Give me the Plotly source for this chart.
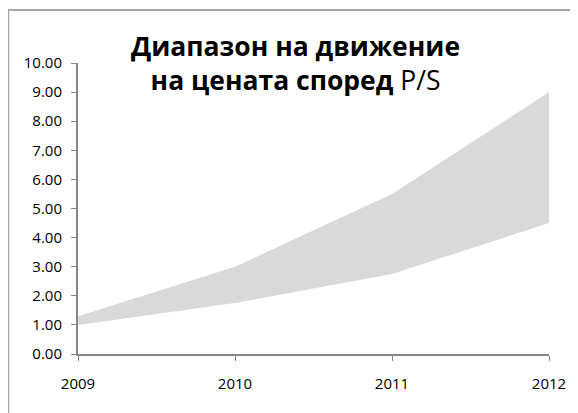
import plotly.graph_objects as go

years = [2009, 2010, 2011, 2012]
year_labels = ["2009", "2010", "2011", "2012"]
lower = [1.0, 1.75, 2.75, 4.5]
upper = [1.3, 3.0, 5.5, 9.0]
y_ticks = [0, 1, 2, 3, 4, 5, 6, 7, 8, 9, 10]

# the page body adds an 8px offset, so figure coords = page coords - 8
W, H = 570, 405
L, R, T, B = 70, 27, 55, 59
pw, ph = W - L - R, H - T - B

fig = go.Figure()
fig.add_trace(go.Scatter(x=years, y=lower, mode="lines", line=dict(width=0, color="#d9d9d9"),
                         hoverinfo="skip", showlegend=False))
fig.add_trace(go.Scatter(x=years, y=upper, mode="lines", line=dict(width=0, color="#d9d9d9"),
                         fill="tonexty", fillcolor="#d9d9d9", showlegend=False))

axis_font = dict(family="Open Sans, Noto Sans, sans-serif", size=15, color="#000000")
fig.update_layout(
    width=W, height=H,
    margin=dict(l=L, r=R, t=T, b=B),
    paper_bgcolor="white", plot_bgcolor="white",
    xaxis=dict(range=[2009, 2012], tickmode="array", tickvals=years, ticktext=year_labels,
               showgrid=False, zeroline=False, showline=True, linecolor="#868686", linewidth=2,
               ticks="outside", ticklen=5, tickcolor="#868686", tickfont=axis_font,
               ticklabelstandoff=10),
    yaxis=dict(range=[0, 10], tickmode="array", tickvals=y_ticks, tickformat=".2f",
               showgrid=False, zeroline=False, showline=True, linecolor="#868686", linewidth=2,
               ticks="outside", ticklen=5, tickcolor="#868686", tickfont=axis_font,
               ticklabelstandoff=6),
    font=axis_font,
)

fig.add_annotation(
    text="<b>Диапазон на движение<br>на цената според</b> P/S",
    xref="paper", yref="paper",
    x=(288 - L) / pw, y=(H - B - 55) / ph,
    xanchor="center", yanchor="middle", showarrow=False,
    font=dict(family="Open Sans, Noto Sans, sans-serif", size=26.5, color="#000000"),
    align="center",
)

fig.add_shape(type="rect", xref="paper", yref="paper",
              x0=(0 - L) / pw, x1=(W + 30 - L) / pw,
              y0=-(B + 30) / ph, y1=(H - B - 2) / ph,
              line=dict(color="#a6a6a6", width=2), fillcolor="rgba(0,0,0,0)", layer="below")

fig.write_html("out.html")
